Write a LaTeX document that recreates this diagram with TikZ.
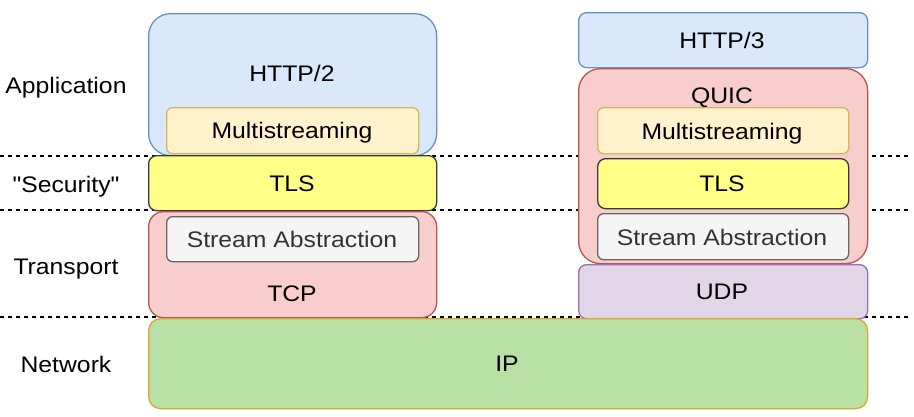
\documentclass[tikz,border=0pt]{standalone}
\usepackage{fontspec}
\setmainfont{Liberation Sans}[FakeStretch=1.1, Ligatures=TeXOff]
\begin{document}
\begin{tikzpicture}[x=1pt,y=-1pt,
  box/.style={draw, line width=1.3pt, anchor=north west, inner sep=0pt},
  txt/.style={inner sep=0pt, text height=16pt, text depth=0pt, font=\fontsize{22.5}{26}\selectfont},
  blu/.style={box, fill=cBluF, draw=cBluD},
  yel/.style={box, fill=cYelF, draw=cYelD, rounded corners=6pt},
  tls/.style={box, fill=cTlsF, draw=cTlsD, rounded corners=8pt},
  red/.style={box, fill=cRedF, draw=cRedD},
  gry/.style={box, fill=cGryF, draw=cGryD, rounded corners=6pt},
  pur/.style={box, fill=cPurF, draw=cPurD, rounded corners=8pt},
  grn/.style={box, fill=cGrnF, draw=cGrnD, rounded corners=12pt},
  sep/.style={line width=1.3pt, dash pattern=on 4pt off 4pt}]
\definecolor{cBluF}{HTML}{DAE8FC}\definecolor{cBluD}{HTML}{6C8EBF}
\definecolor{cYelF}{HTML}{FFF2CC}\definecolor{cYelD}{HTML}{D6B656}
\definecolor{cTlsF}{HTML}{FFFF88}\definecolor{cTlsD}{HTML}{36393D}
\definecolor{cRedF}{HTML}{F8CECC}\definecolor{cRedD}{HTML}{B85450}
\definecolor{cGryF}{HTML}{F5F5F5}\definecolor{cGryD}{HTML}{666666}
\definecolor{cPurF}{HTML}{E1D5E7}\definecolor{cPurD}{HTML}{9673A6}
\definecolor{cGrnF}{HTML}{B9E0A5}\definecolor{cGrnD}{HTML}{D6A92E}
\useasboundingbox[fill=white] (0,0) rectangle (914,416);
% dashed layer separators
\coordinate (s1a) at (0,156); \coordinate (s1b) at (908,156);
\coordinate (s2a) at (0,210); \coordinate (s2b) at (908,210);
\coordinate (s3a) at (0,317); \coordinate (s3b) at (908,317);
\draw[sep] (s1a) -- (s1b);
\draw[sep] (s2a) -- (s2b);
\draw[sep] (s3a) -- (s3b);
% left stack
\node[blu, rounded corners=22pt, minimum width=288pt, minimum height=142pt] (http2) at (148,13) {};
\node[txt] (http2t) at (292,73) {HTTP/2};
\node[yel, minimum width=252pt, minimum height=46pt] (ms1) at (166,107) {};
\node[txt] (ms1t) at (292,130) {Multistreaming};
\node[tls, minimum width=288pt, minimum height=55pt] (tls1) at (148,155) {};
\node[txt] (tls1t) at (292,183) {TLS};
\node[red, rounded corners=15pt, minimum width=288pt, minimum height=106pt] (tcp) at (148,211) {};
\node[gry, minimum width=252pt, minimum height=45pt] (sa1) at (166,216) {};
\node[txt, text=cGryD!50!black] (sa1t) at (292,239) {Stream Abstraction};
\node[txt] (tcpt) at (292,293) {TCP};
% right stack
\node[blu, rounded corners=8pt, minimum width=289pt, minimum height=55pt] (http3) at (578,12) {};
\node[txt] (http3t) at (722,40) {HTTP/3};
\node[red, rounded corners=22pt, minimum width=289pt, minimum height=195pt] (quic) at (578,68) {};
\node[txt] (quict) at (722,95) {QUIC};
\node[yel, minimum width=251pt, minimum height=46pt] (ms2) at (597,107) {};
\node[txt] (ms2t) at (722,131) {Multistreaming};
\node[tls, minimum width=251pt, minimum height=50pt] (tls2) at (597,158) {};
\node[txt] (tls2t) at (722,183) {TLS};
\node[gry, minimum width=251pt, minimum height=46pt] (sa2) at (597,213) {};
\node[txt, text=cGryD!50!black] (sa2t) at (722,237) {Stream Abstraction};
\node[pur, minimum width=289pt, minimum height=54pt] (udp) at (578,264) {};
\node[txt] (udpt) at (722,291) {UDP};
% network
\node[grn, minimum width=719pt, minimum height=90pt] (ip) at (148,318) {};
\node[txt] (ipt) at (507,363) {IP};
% layer labels
\node[txt] (lapp) at (66,85) {Application};
\node[txt] (lsec) at (66,184) {"Security"};
\node[txt] (ltra) at (66,266) {Transport};
\node[txt] (lnet) at (66,364) {Network};
\end{tikzpicture}
\end{document}
